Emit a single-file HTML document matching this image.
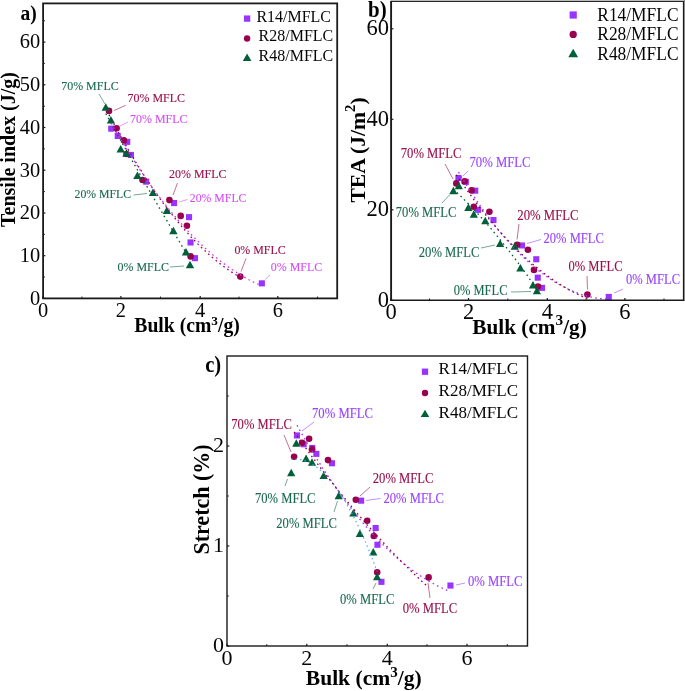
<!DOCTYPE html>
<html><head><meta charset="utf-8"><title>Figure</title>
<style>
html,body{margin:0;padding:0;background:#fff;}
body{width:685px;height:691px;overflow:hidden;}
svg{display:block;}
text{font-family:"Liberation Serif","DejaVu Serif",serif;}
.b{font-weight:bold;}
</style></head><body>
<svg width="685" height="691" viewBox="0 0 685 691">
<rect width="685" height="691" fill="#fff"/>
<rect x="108.2" y="125.6" width="6.1" height="6.1" fill="#9933ff"/>
<rect x="114.7" y="132.9" width="6.1" height="6.1" fill="#9933ff"/>
<rect x="124.2" y="138.8" width="6.1" height="6.1" fill="#9933ff"/>
<rect x="127.9" y="151.9" width="6.1" height="6.1" fill="#9933ff"/>
<rect x="143.1" y="178.6" width="6.1" height="6.1" fill="#9933ff"/>
<rect x="171.0" y="200.0" width="6.1" height="6.1" fill="#9933ff"/>
<rect x="186.0" y="214.1" width="6.1" height="6.1" fill="#9933ff"/>
<rect x="187.5" y="239.4" width="6.1" height="6.1" fill="#9933ff"/>
<rect x="191.9" y="255.1" width="6.1" height="6.1" fill="#9933ff"/>
<rect x="258.8" y="280.3" width="6.1" height="6.1" fill="#9933ff"/>
<circle cx="109.0" cy="110.9" r="3.3" fill="#99004d"/>
<circle cx="116.6" cy="128.2" r="3.3" fill="#99004d"/>
<circle cx="123.9" cy="140.4" r="3.3" fill="#99004d"/>
<circle cx="126.5" cy="154.0" r="3.3" fill="#99004d"/>
<circle cx="142.5" cy="180.0" r="3.3" fill="#99004d"/>
<circle cx="169.4" cy="200.1" r="3.3" fill="#99004d"/>
<circle cx="180.7" cy="215.9" r="3.3" fill="#99004d"/>
<circle cx="186.9" cy="225.7" r="3.3" fill="#99004d"/>
<circle cx="190.6" cy="256.4" r="3.3" fill="#99004d"/>
<circle cx="240.3" cy="276.6" r="3.3" fill="#99004d"/>
<path d="M105.8,103.2 L110.0,110.7 L101.6,110.7 Z" fill="#00603a"/>
<path d="M110.9,115.9 L115.1,123.4 L106.8,123.4 Z" fill="#00603a"/>
<path d="M120.7,145.1 L124.9,152.6 L116.5,152.6 Z" fill="#00603a"/>
<path d="M126.5,149.2 L130.7,156.7 L122.3,156.7 Z" fill="#00603a"/>
<path d="M137.4,171.4 L141.6,178.9 L133.2,178.9 Z" fill="#00603a"/>
<path d="M152.9,188.5 L157.1,196.0 L148.8,196.0 Z" fill="#00603a"/>
<path d="M166.8,206.4 L171.0,213.9 L162.7,213.9 Z" fill="#00603a"/>
<path d="M173.4,226.8 L177.6,234.3 L169.2,234.3 Z" fill="#00603a"/>
<path d="M186.0,248.1 L190.2,255.6 L181.8,255.6 Z" fill="#00603a"/>
<path d="M190.0,260.7 L194.2,268.2 L185.8,268.2 Z" fill="#00603a"/>
<path d="M105.8,113.6 L107.2,116.2 L108.7,118.8 L110.1,121.3 L111.5,123.9 L112.9,126.5 L114.4,129.1 L115.8,131.6 L117.2,134.2 L118.6,136.7 L120.1,139.3 L121.5,141.8 L122.9,144.4 L124.4,146.9 L125.8,149.4 L127.2,152.0 L128.6,154.5 L130.1,157.0 L131.5,159.5 L132.9,162.0 L134.3,164.5 L135.8,167.0 L137.2,169.5 L138.6,172.0 L140.1,174.5 L141.5,177.0 L142.9,179.5 L144.3,182.0 L145.8,184.5 L147.2,186.9 L148.6,189.4 L150.0,191.9 L151.5,194.3 L152.9,196.8 L154.3,199.2 L155.7,201.7 L157.2,204.1 L158.6,206.6 L160.0,209.0 L161.5,211.4 L162.9,213.9 L164.3,216.3 L165.7,218.7 L167.2,221.1 L168.6,223.5 L170.0,226.0 L171.4,228.4 L172.9,230.8 L174.3,233.2 L175.7,235.6 L177.2,237.9 L178.6,240.3 L180.0,242.7 L181.4,245.1 L182.9,247.5 L184.3,249.8 L185.7,252.2 L187.1,254.6 L188.6,256.9 L190.0,259.3" fill="none" stroke="#00603a" stroke-width="1.3" stroke-dasharray="1.6 3.3"/>
<path d="M111.2,123.1 L113.8,127.5 L116.3,131.9 L118.9,136.2 L121.4,140.5 L124.0,144.7 L126.5,148.8 L129.1,152.9 L131.6,156.9 L134.2,160.9 L136.7,164.8 L139.3,168.6 L141.8,172.4 L144.4,176.2 L146.9,179.8 L149.5,183.5 L152.0,187.0 L154.6,190.5 L157.1,194.0 L159.7,197.4 L162.3,200.7 L164.8,204.0 L167.4,207.2 L169.9,210.4 L172.5,213.5 L175.0,216.5 L177.6,219.5 L180.1,222.4 L182.7,225.3 L185.2,228.1 L187.8,230.9 L190.3,233.6 L192.9,236.2 L195.4,238.8 L198.0,241.3 L200.5,243.8 L203.1,246.2 L205.6,248.6 L208.2,250.9 L210.7,253.1 L213.3,255.3 L215.9,257.4 L218.4,259.5 L221.0,261.5 L223.5,263.4 L226.1,265.3 L228.6,267.2 L231.2,268.9 L233.7,270.7 L236.3,272.3 L238.8,273.9 L241.4,275.5 L243.9,277.0 L246.5,278.4 L249.0,279.8 L251.6,281.1 L254.1,282.4 L256.7,283.6 L259.2,284.7 L261.8,285.8" fill="none" stroke="#cc33ff" stroke-width="1.3" stroke-dasharray="1.6 3.3"/>
<path d="M109.0,114.9 L111.2,119.1 L113.5,123.2 L115.7,127.4 L117.9,131.4 L120.1,135.4 L122.4,139.4 L124.6,143.3 L126.8,147.1 L129.0,150.9 L131.3,154.7 L133.5,158.4 L135.7,162.1 L137.9,165.7 L140.2,169.2 L142.4,172.7 L144.6,176.2 L146.8,179.6 L149.1,182.9 L151.3,186.2 L153.5,189.5 L155.7,192.7 L158.0,195.9 L160.2,199.0 L162.4,202.0 L164.6,205.0 L166.9,208.0 L169.1,210.9 L171.3,213.7 L173.5,216.5 L175.8,219.3 L178.0,222.0 L180.2,224.7 L182.4,227.3 L184.7,229.8 L186.9,232.3 L189.1,234.8 L191.3,237.2 L193.6,239.5 L195.8,241.8 L198.0,244.1 L200.2,246.3 L202.5,248.5 L204.7,250.6 L206.9,252.6 L209.1,254.6 L211.4,256.6 L213.6,258.5 L215.8,260.3 L218.0,262.1 L220.3,263.9 L222.5,265.6 L224.7,267.2 L226.9,268.8 L229.2,270.4 L231.4,271.9 L233.6,273.4 L235.8,274.8 L238.1,276.1 L240.3,277.4" fill="none" stroke="#99004d" stroke-width="1.3" stroke-dasharray="1.6 3.3"/>
<rect x="43.1" y="3.4" width="294.1" height="295.0" fill="none" stroke="#1a1a1a" stroke-width="1.8"/>
<line x1="43.0" y1="298.4" x2="43.0" y2="296.09999999999997" stroke="#1a1a1a" stroke-width="1.2"/>
<text x="43.0" y="316.5" font-size="20.4" fill="#050505" text-anchor="middle">0</text>
<line x1="120.9" y1="298.4" x2="120.9" y2="296.09999999999997" stroke="#1a1a1a" stroke-width="1.2"/>
<text x="120.9" y="316.5" font-size="20.4" fill="#050505" text-anchor="middle">2</text>
<line x1="200.2" y1="298.4" x2="200.2" y2="296.09999999999997" stroke="#1a1a1a" stroke-width="1.2"/>
<text x="200.2" y="316.5" font-size="20.4" fill="#050505" text-anchor="middle">4</text>
<line x1="277.8" y1="298.4" x2="277.8" y2="296.09999999999997" stroke="#1a1a1a" stroke-width="1.2"/>
<text x="277.8" y="316.5" font-size="20.4" fill="#050505" text-anchor="middle">6</text>
<line x1="82" y1="298.4" x2="82" y2="296.59999999999997" stroke="#1a1a1a" stroke-width="1"/>
<line x1="160.5" y1="298.4" x2="160.5" y2="296.59999999999997" stroke="#1a1a1a" stroke-width="1"/>
<line x1="239" y1="298.4" x2="239" y2="296.59999999999997" stroke="#1a1a1a" stroke-width="1"/>
<line x1="317.5" y1="298.4" x2="317.5" y2="296.59999999999997" stroke="#1a1a1a" stroke-width="1"/>
<line x1="43.1" y1="298.4" x2="45.4" y2="298.4" stroke="#1a1a1a" stroke-width="1.2"/>
<text x="40.2" y="304.7" font-size="20.4" fill="#050505" text-anchor="end">0</text>
<line x1="43.1" y1="255.7" x2="45.4" y2="255.7" stroke="#1a1a1a" stroke-width="1.2"/>
<text x="40.2" y="262.0" font-size="20.4" fill="#050505" text-anchor="end">10</text>
<line x1="43.1" y1="213.0" x2="45.4" y2="213.0" stroke="#1a1a1a" stroke-width="1.2"/>
<text x="40.2" y="219.3" font-size="20.4" fill="#050505" text-anchor="end">20</text>
<line x1="43.1" y1="170.2" x2="45.4" y2="170.2" stroke="#1a1a1a" stroke-width="1.2"/>
<text x="40.2" y="176.5" font-size="20.4" fill="#050505" text-anchor="end">30</text>
<line x1="43.1" y1="127.5" x2="45.4" y2="127.5" stroke="#1a1a1a" stroke-width="1.2"/>
<text x="40.2" y="133.8" font-size="20.4" fill="#050505" text-anchor="end">40</text>
<line x1="43.1" y1="84.8" x2="45.4" y2="84.8" stroke="#1a1a1a" stroke-width="1.2"/>
<text x="40.2" y="91.1" font-size="20.4" fill="#050505" text-anchor="end">50</text>
<line x1="43.1" y1="42.1" x2="45.4" y2="42.1" stroke="#1a1a1a" stroke-width="1.2"/>
<text x="40.2" y="48.4" font-size="20.4" fill="#050505" text-anchor="end">60</text>
<line x1="43.1" y1="277" x2="44.9" y2="277" stroke="#1a1a1a" stroke-width="1"/>
<line x1="43.1" y1="234.3" x2="44.9" y2="234.3" stroke="#1a1a1a" stroke-width="1"/>
<line x1="43.1" y1="191.6" x2="44.9" y2="191.6" stroke="#1a1a1a" stroke-width="1"/>
<line x1="43.1" y1="148.9" x2="44.9" y2="148.9" stroke="#1a1a1a" stroke-width="1"/>
<line x1="43.1" y1="106.2" x2="44.9" y2="106.2" stroke="#1a1a1a" stroke-width="1"/>
<line x1="43.1" y1="63.4" x2="44.9" y2="63.4" stroke="#1a1a1a" stroke-width="1"/>
<line x1="43.1" y1="20.8" x2="44.9" y2="20.8" stroke="#1a1a1a" stroke-width="1"/>
<rect x="455.4" y="174.9" width="6.1" height="6.1" fill="#9933ff"/>
<rect x="462.8" y="178.8" width="6.1" height="6.1" fill="#9933ff"/>
<rect x="472.2" y="187.6" width="6.1" height="6.1" fill="#9933ff"/>
<rect x="475.1" y="206.8" width="6.1" height="6.1" fill="#9933ff"/>
<rect x="490.4" y="217.0" width="6.1" height="6.1" fill="#9933ff"/>
<rect x="518.9" y="242.4" width="6.1" height="6.1" fill="#9933ff"/>
<rect x="533.2" y="256.2" width="6.1" height="6.1" fill="#9933ff"/>
<rect x="534.7" y="274.6" width="6.1" height="6.1" fill="#9933ff"/>
<rect x="539.0" y="284.8" width="6.1" height="6.1" fill="#9933ff"/>
<rect x="605.7" y="293.9" width="6.1" height="6.1" fill="#9933ff"/>
<circle cx="456.3" cy="183.4" r="3.3" fill="#99004d"/>
<circle cx="464.6" cy="181.3" r="3.3" fill="#99004d"/>
<circle cx="471.6" cy="190.4" r="3.3" fill="#99004d"/>
<circle cx="473.8" cy="206.7" r="3.3" fill="#99004d"/>
<circle cx="489.4" cy="211.8" r="3.3" fill="#99004d"/>
<circle cx="517.2" cy="244.7" r="3.3" fill="#99004d"/>
<circle cx="527.9" cy="249.7" r="3.3" fill="#99004d"/>
<circle cx="534.0" cy="269.9" r="3.3" fill="#99004d"/>
<circle cx="538.0" cy="286.6" r="3.3" fill="#99004d"/>
<circle cx="587.4" cy="294.5" r="3.3" fill="#99004d"/>
<path d="M453.4,186.8 L457.5,194.3 L449.2,194.3 Z" fill="#00603a"/>
<path d="M458.8,181.7 L462.9,189.2 L454.7,189.2 Z" fill="#00603a"/>
<path d="M468.4,203.6 L472.5,211.1 L464.2,211.1 Z" fill="#00603a"/>
<path d="M473.8,210.2 L477.9,217.7 L469.7,217.7 Z" fill="#00603a"/>
<path d="M485.3,216.7 L489.4,224.2 L481.2,224.2 Z" fill="#00603a"/>
<path d="M500.1,239.6 L504.2,247.1 L496.0,247.1 Z" fill="#00603a"/>
<path d="M514.7,242.2 L518.9,249.7 L510.6,249.7 Z" fill="#00603a"/>
<path d="M520.4,264.1 L524.5,271.6 L516.2,271.6 Z" fill="#00603a"/>
<path d="M533.0,280.9 L537.1,288.4 L528.9,288.4 Z" fill="#00603a"/>
<path d="M536.9,286.7 L541.0,294.2 L532.8,294.2 Z" fill="#00603a"/>
<path d="M453.4,189.2 L454.8,190.5 L456.2,191.8 L457.6,193.2 L459.1,194.5 L460.5,195.9 L461.9,197.3 L463.3,198.7 L464.7,200.1 L466.1,201.5 L467.6,203.0 L469.0,204.4 L470.4,205.9 L471.8,207.4 L473.2,208.8 L474.6,210.3 L476.0,211.9 L477.5,213.4 L478.9,214.9 L480.3,216.5 L481.7,218.0 L483.1,219.6 L484.5,221.2 L486.0,222.8 L487.4,224.4 L488.8,226.1 L490.2,227.7 L491.6,229.4 L493.0,231.1 L494.4,232.7 L495.9,234.4 L497.3,236.1 L498.7,237.9 L500.1,239.6 L501.5,241.4 L502.9,243.1 L504.3,244.9 L505.8,246.7 L507.2,248.5 L508.6,250.3 L510.0,252.1 L511.4,254.0 L512.8,255.8 L514.3,257.7 L515.7,259.6 L517.1,261.4 L518.5,263.4 L519.9,265.3 L521.3,267.2 L522.7,269.1 L524.2,271.1 L525.6,273.1 L527.0,275.0 L528.4,277.0 L529.8,279.1 L531.2,281.1 L532.7,283.1 L534.1,285.2 L535.5,287.2 L536.9,289.3" fill="none" stroke="#00603a" stroke-width="1.3" stroke-dasharray="1.6 3.3"/>
<path d="M458.5,172.1 L461.0,176.3 L463.6,180.4 L466.1,184.5 L468.7,188.5 L471.2,192.4 L473.8,196.3 L476.3,200.1 L478.9,203.8 L481.4,207.4 L484.0,211.0 L486.5,214.5 L489.0,217.9 L491.6,221.3 L494.1,224.5 L496.7,227.8 L499.2,230.9 L501.8,234.0 L504.3,237.0 L506.9,239.9 L509.4,242.8 L512.0,245.6 L514.5,248.3 L517.1,250.9 L519.6,253.5 L522.1,256.0 L524.7,258.5 L527.2,260.8 L529.8,263.1 L532.3,265.3 L534.9,267.5 L537.4,269.6 L540.0,271.6 L542.5,273.5 L545.1,275.4 L547.6,277.2 L550.1,278.9 L552.7,280.6 L555.2,282.2 L557.8,283.7 L560.3,285.2 L562.9,286.5 L565.4,287.8 L568.0,289.1 L570.5,290.2 L573.1,291.3 L575.6,292.3 L578.2,293.3 L580.7,294.2 L583.2,295.0 L585.8,295.7 L588.3,296.4 L590.9,297.0 L593.4,297.5 L596.0,298.0 L598.5,298.4 L601.1,298.7 L603.6,298.9 L606.2,299.1 L608.7,299.2" fill="none" stroke="#9933ff" stroke-width="1.3" stroke-dasharray="1.6 3.3"/>
<path d="M456.3,174.8 L458.5,178.0 L460.7,181.3 L463.0,184.5 L465.2,187.6 L467.4,190.7 L469.6,193.8 L471.9,196.9 L474.1,199.8 L476.3,202.8 L478.5,205.7 L480.7,208.6 L483.0,211.4 L485.2,214.2 L487.4,217.0 L489.6,219.7 L491.9,222.3 L494.1,225.0 L496.3,227.5 L498.5,230.1 L500.7,232.6 L503.0,235.1 L505.2,237.5 L507.4,239.9 L509.6,242.2 L511.9,244.5 L514.1,246.8 L516.3,249.0 L518.5,251.2 L520.7,253.3 L523.0,255.4 L525.2,257.5 L527.4,259.5 L529.6,261.5 L531.8,263.4 L534.1,265.3 L536.3,267.1 L538.5,268.9 L540.7,270.7 L543.0,272.5 L545.2,274.1 L547.4,275.8 L549.6,277.4 L551.8,279.0 L554.1,280.5 L556.3,282.0 L558.5,283.4 L560.7,284.8 L563.0,286.2 L565.2,287.5 L567.4,288.8 L569.6,290.1 L571.8,291.3 L574.1,292.4 L576.3,293.5 L578.5,294.6 L580.7,295.7 L583.0,296.7 L585.2,297.6 L587.4,298.5" fill="none" stroke="#800040" stroke-width="1.3" stroke-dasharray="1.6 3.3"/>
<rect x="390.3" y="0" width="294.7" height="1" fill="#c6c6c6"/>
<rect x="684" y="0" width="1" height="301" fill="#8a8a8a"/>
<line x1="391.1" y1="0.9" x2="391.1" y2="301.05" stroke="#1a1a1a" stroke-width="1.9"/>
<line x1="390.20000000000005" y1="300.3" x2="684" y2="300.3" stroke="#1a1a1a" stroke-width="1.5"/>
<line x1="683.45" y1="0.9" x2="683.45" y2="300.3" stroke="#1a1a1a" stroke-width="1.1"/>
<line x1="391.1" y1="1.45" x2="684" y2="1.45" stroke="#1a1a1a" stroke-width="1.0"/>
<line x1="391.1" y1="300.3" x2="391.1" y2="298.0" stroke="#1a1a1a" stroke-width="1.2"/>
<text x="391.1" y="318.5" font-size="22.5" fill="#050505" text-anchor="middle">0</text>
<line x1="468.5" y1="300.3" x2="468.5" y2="298.0" stroke="#1a1a1a" stroke-width="1.2"/>
<text x="468.5" y="318.5" font-size="22.5" fill="#050505" text-anchor="middle">2</text>
<line x1="547.3" y1="300.3" x2="547.3" y2="298.0" stroke="#1a1a1a" stroke-width="1.2"/>
<text x="547.3" y="318.5" font-size="22.5" fill="#050505" text-anchor="middle">4</text>
<line x1="624.9" y1="300.3" x2="624.9" y2="298.0" stroke="#1a1a1a" stroke-width="1.2"/>
<text x="624.9" y="318.5" font-size="22.5" fill="#050505" text-anchor="middle">6</text>
<line x1="429.5" y1="300.3" x2="429.5" y2="298.5" stroke="#1a1a1a" stroke-width="1"/>
<line x1="507.8" y1="300.3" x2="507.8" y2="298.5" stroke="#1a1a1a" stroke-width="1"/>
<line x1="586" y1="300.3" x2="586" y2="298.5" stroke="#1a1a1a" stroke-width="1"/>
<line x1="664" y1="300.3" x2="664" y2="298.5" stroke="#1a1a1a" stroke-width="1"/>
<line x1="391.1" y1="300.3" x2="393.40000000000003" y2="300.3" stroke="#1a1a1a" stroke-width="1.2"/>
<text x="389.0" y="306.6" font-size="22.5" fill="#050505" text-anchor="end">0</text>
<line x1="391.1" y1="209.8" x2="393.40000000000003" y2="209.8" stroke="#1a1a1a" stroke-width="1.2"/>
<text x="389.0" y="216.1" font-size="22.5" fill="#050505" text-anchor="end">20</text>
<line x1="391.1" y1="119.3" x2="393.40000000000003" y2="119.3" stroke="#1a1a1a" stroke-width="1.2"/>
<text x="389.0" y="125.6" font-size="22.5" fill="#050505" text-anchor="end">40</text>
<line x1="391.1" y1="28.8" x2="393.40000000000003" y2="28.8" stroke="#1a1a1a" stroke-width="1.2"/>
<text x="389.0" y="35.1" font-size="22.5" fill="#050505" text-anchor="end">60</text>
<rect x="293.9" y="432.4" width="6.1" height="6.1" fill="#9933ff"/>
<rect x="300.6" y="441.2" width="6.1" height="6.1" fill="#9933ff"/>
<rect x="309.2" y="444.9" width="6.1" height="6.1" fill="#9933ff"/>
<rect x="313.3" y="450.8" width="6.1" height="6.1" fill="#9933ff"/>
<rect x="328.9" y="460.2" width="6.1" height="6.1" fill="#9933ff"/>
<rect x="358.1" y="497.6" width="6.1" height="6.1" fill="#9933ff"/>
<rect x="372.6" y="525.0" width="6.1" height="6.1" fill="#9933ff"/>
<rect x="374.4" y="541.7" width="6.1" height="6.1" fill="#9933ff"/>
<rect x="378.4" y="578.8" width="6.1" height="6.1" fill="#9933ff"/>
<rect x="447.4" y="582.5" width="6.1" height="6.1" fill="#9933ff"/>
<circle cx="294.1" cy="456.7" r="3.3" fill="#99004d"/>
<circle cx="302.1" cy="442.8" r="3.3" fill="#99004d"/>
<circle cx="309.1" cy="438.8" r="3.3" fill="#99004d"/>
<circle cx="312.0" cy="449.4" r="3.3" fill="#99004d"/>
<circle cx="328.0" cy="460.1" r="3.3" fill="#99004d"/>
<circle cx="355.8" cy="499.7" r="3.3" fill="#99004d"/>
<circle cx="367.2" cy="520.7" r="3.3" fill="#99004d"/>
<circle cx="373.8" cy="536.0" r="3.3" fill="#99004d"/>
<circle cx="377.2" cy="572.3" r="3.3" fill="#99004d"/>
<circle cx="428.6" cy="577.4" r="3.3" fill="#99004d"/>
<path d="M291.2,468.8 L295.3,476.3 L287.1,476.3 Z" fill="#00603a"/>
<path d="M296.3,439.3 L300.4,446.8 L292.2,446.8 Z" fill="#00603a"/>
<path d="M306.1,454.6 L310.2,462.1 L302.0,462.1 Z" fill="#00603a"/>
<path d="M312.0,458.3 L316.1,465.8 L307.9,465.8 Z" fill="#00603a"/>
<path d="M323.6,471.4 L327.8,478.9 L319.5,478.9 Z" fill="#00603a"/>
<path d="M338.7,491.7 L342.8,499.2 L334.6,499.2 Z" fill="#00603a"/>
<path d="M353.4,509.1 L357.5,516.6 L349.2,516.6 Z" fill="#00603a"/>
<path d="M359.9,529.5 L364.0,537.0 L355.8,537.0 Z" fill="#00603a"/>
<path d="M373.3,547.9 L377.4,555.4 L369.2,555.4 Z" fill="#00603a"/>
<path d="M377.1,572.7 L381.2,580.2 L373.0,580.2 Z" fill="#00603a"/>
<path d="M291.2,459.0 L292.7,458.9 L294.1,458.8 L295.6,458.9 L297.0,459.0 L298.5,459.2 L299.9,459.4 L301.4,459.7 L302.8,460.1 L304.3,460.6 L305.8,461.1 L307.2,461.7 L308.7,462.3 L310.1,463.1 L311.6,463.9 L313.0,464.7 L314.5,465.7 L316.0,466.7 L317.4,467.7 L318.9,468.9 L320.3,470.1 L321.8,471.4 L323.2,472.7 L324.7,474.2 L326.1,475.6 L327.6,477.2 L329.1,478.8 L330.5,480.5 L332.0,482.3 L333.4,484.1 L334.9,486.0 L336.3,488.0 L337.8,490.1 L339.2,492.2 L340.7,494.4 L342.2,496.6 L343.6,498.9 L345.1,501.3 L346.5,503.8 L348.0,506.3 L349.4,508.9 L350.9,511.6 L352.3,514.3 L353.8,517.1 L355.3,520.0 L356.7,522.9 L358.2,525.9 L359.6,529.0 L361.1,532.2 L362.5,535.4 L364.0,538.7 L365.5,542.0 L366.9,545.5 L368.4,549.0 L369.8,552.5 L371.3,556.2 L372.7,559.9 L374.2,563.6 L375.6,567.5 L377.1,571.4" fill="none" stroke="#33aaff" stroke-width="1.2" stroke-dasharray="1.3 3.2"/>
<path d="M297.0,425.3 L299.6,429.9 L302.2,434.4 L304.8,438.9 L307.4,443.3 L310.0,447.6 L312.6,451.9 L315.2,456.2 L317.8,460.3 L320.4,464.4 L323.0,468.5 L325.6,472.5 L328.2,476.4 L330.8,480.2 L333.4,484.0 L336.0,487.8 L338.6,491.5 L341.2,495.1 L343.8,498.6 L346.4,502.1 L349.0,505.6 L351.6,508.9 L354.2,512.2 L356.8,515.5 L359.4,518.7 L362.0,521.8 L364.6,524.9 L367.2,527.9 L369.8,530.8 L372.4,533.7 L375.1,536.5 L377.7,539.3 L380.3,542.0 L382.9,544.6 L385.5,547.2 L388.1,549.7 L390.7,552.2 L393.3,554.6 L395.9,556.9 L398.5,559.2 L401.1,561.4 L403.7,563.5 L406.3,565.6 L408.9,567.6 L411.5,569.6 L414.1,571.5 L416.7,573.4 L419.3,575.1 L421.9,576.9 L424.5,578.5 L427.1,580.1 L429.7,581.6 L432.3,583.1 L434.9,584.5 L437.5,585.9 L440.1,587.2 L442.7,588.4 L445.3,589.6 L447.9,590.7 L450.5,591.7" fill="none" stroke="#9933ff" stroke-width="1.3" stroke-dasharray="1.6 3.3"/>
<path d="M294.1,432.0 L296.4,435.2 L298.7,438.3 L300.9,441.5 L303.2,444.6 L305.5,447.8 L307.8,450.9 L310.1,453.9 L312.3,457.0 L314.6,460.0 L316.9,463.1 L319.2,466.1 L321.5,469.0 L323.7,472.0 L326.0,475.0 L328.3,477.9 L330.6,480.8 L332.9,483.7 L335.1,486.5 L337.4,489.4 L339.7,492.2 L342.0,495.0 L344.3,497.8 L346.5,500.6 L348.8,503.3 L351.1,506.1 L353.4,508.8 L355.7,511.5 L357.9,514.2 L360.2,516.8 L362.5,519.4 L364.8,522.1 L367.0,524.7 L369.3,527.2 L371.6,529.8 L373.9,532.3 L376.2,534.8 L378.4,537.3 L380.7,539.8 L383.0,542.3 L385.3,544.7 L387.6,547.2 L389.8,549.6 L392.1,551.9 L394.4,554.3 L396.7,556.6 L399.0,559.0 L401.2,561.3 L403.5,563.6 L405.8,565.8 L408.1,568.1 L410.4,570.3 L412.6,572.5 L414.9,574.7 L417.2,576.9 L419.5,579.0 L421.8,581.2 L424.0,583.3 L426.3,585.4 L428.6,587.4" fill="none" stroke="#99004d" stroke-width="1.3" stroke-dasharray="1.6 3.3"/>
<rect x="227" y="356" width="300.5" height="290.0" fill="none" stroke="#1a1a1a" stroke-width="1.4"/>
<line x1="227" y1="646" x2="227" y2="643.7" stroke="#1a1a1a" stroke-width="1.2"/>
<text x="227" y="664.9" font-size="22" fill="#050505" text-anchor="middle">0</text>
<line x1="306.8" y1="646" x2="306.8" y2="643.7" stroke="#1a1a1a" stroke-width="1.2"/>
<text x="306.8" y="664.9" font-size="22" fill="#050505" text-anchor="middle">2</text>
<line x1="387.3" y1="646" x2="387.3" y2="643.7" stroke="#1a1a1a" stroke-width="1.2"/>
<text x="387.3" y="664.9" font-size="22" fill="#050505" text-anchor="middle">4</text>
<line x1="467" y1="646" x2="467" y2="643.7" stroke="#1a1a1a" stroke-width="1.2"/>
<text x="467" y="664.9" font-size="22" fill="#050505" text-anchor="middle">6</text>
<line x1="266.8" y1="646" x2="266.8" y2="644.2" stroke="#1a1a1a" stroke-width="1"/>
<line x1="347" y1="646" x2="347" y2="644.2" stroke="#1a1a1a" stroke-width="1"/>
<line x1="427" y1="646" x2="427" y2="644.2" stroke="#1a1a1a" stroke-width="1"/>
<line x1="507.3" y1="646" x2="507.3" y2="644.2" stroke="#1a1a1a" stroke-width="1"/>
<line x1="227" y1="646" x2="229.3" y2="646" stroke="#1a1a1a" stroke-width="1.2"/>
<text x="224" y="651.8" font-size="22" fill="#050505" text-anchor="end">0</text>
<line x1="227" y1="546" x2="229.3" y2="546" stroke="#1a1a1a" stroke-width="1.2"/>
<text x="224" y="551.8" font-size="22" fill="#050505" text-anchor="end">1</text>
<line x1="227" y1="446" x2="229.3" y2="446" stroke="#1a1a1a" stroke-width="1.2"/>
<text x="224" y="451.8" font-size="22" fill="#050505" text-anchor="end">2</text>
<line x1="227" y1="596" x2="228.8" y2="596" stroke="#1a1a1a" stroke-width="1"/>
<line x1="227" y1="496" x2="228.8" y2="496" stroke="#1a1a1a" stroke-width="1"/>
<line x1="227" y1="396" x2="228.8" y2="396" stroke="#1a1a1a" stroke-width="1"/>
<text x="20.6" y="19.5" font-size="20.2" fill="#000" class="b" textLength="16.3" lengthAdjust="spacingAndGlyphs">a)</text>
<text x="368" y="16.6" font-size="22.8" fill="#000" class="b" textLength="18.6" lengthAdjust="spacingAndGlyphs">b)</text>
<text x="205.2" y="372" font-size="24" fill="#000" class="b" textLength="16" lengthAdjust="spacingAndGlyphs">c)</text>
<text x="134.3" y="331.7" font-size="20" class="b" fill="#000" textLength="105.5" lengthAdjust="spacingAndGlyphs">Bulk (cm<tspan dy="-7" font-size="13.5">3</tspan><tspan dy="7">/g)</tspan></text>
<text x="472.3" y="333.9" font-size="20.8" class="b" fill="#000" textLength="114.5" lengthAdjust="spacingAndGlyphs">Bulk (cm<tspan dy="-9" font-size="15">3</tspan><tspan dy="9">/g)</tspan></text>
<text x="305.8" y="685.4" font-size="21.5" class="b" fill="#000" textLength="115.8" lengthAdjust="spacingAndGlyphs">Bulk (cm<tspan dy="-8.4" font-size="15">3</tspan><tspan dy="8.4">/g)</tspan></text>
<text transform="translate(15.3,227) rotate(-90)" font-size="21" class="b" fill="#000" textLength="155" lengthAdjust="spacingAndGlyphs">Tensile index (J/g)</text>
<text transform="translate(364.8,202.6) rotate(-90)" font-size="22" class="b" fill="#000" textLength="105.3" lengthAdjust="spacingAndGlyphs">TEA (J/m<tspan dy="-9.5" font-size="15">2</tspan><tspan dy="9.5">)</tspan></text>
<text transform="translate(208.6,554.6) rotate(-90)" font-size="22.3" class="b" fill="#000" textLength="110.3" lengthAdjust="spacingAndGlyphs">Stretch (%)</text>
<rect x="243.95" y="15.45" width="6.30" height="6.30" fill="#9933ff"/>
<text x="256.4" y="21.5" font-size="17.4" fill="#050505" textLength="74.6" lengthAdjust="spacingAndGlyphs">R14/MFLC</text>
<circle cx="247.1" cy="38.5" r="3.2" fill="#99004d"/>
<text x="258.6" y="41.0" font-size="17.4" fill="#050505" textLength="74.6" lengthAdjust="spacingAndGlyphs">R28/MFLC</text>
<path d="M247.1,53.50 L251.40,60.90 L242.80,60.90 Z" fill="#00603a"/>
<text x="258.6" y="60.7" font-size="17.4" fill="#050505" textLength="74.6" lengthAdjust="spacingAndGlyphs">R48/MFLC</text>
<rect x="569.61" y="11.41" width="7.18" height="7.18" fill="#9933ff"/>
<text x="597.3" y="20.5" font-size="18.4" fill="#050505" textLength="81.2" lengthAdjust="spacingAndGlyphs">R14/MFLC</text>
<circle cx="573.2" cy="34.4" r="3.65" fill="#99004d"/>
<text x="597.3" y="40.1" font-size="18.4" fill="#050505" textLength="81.2" lengthAdjust="spacingAndGlyphs">R28/MFLC</text>
<path d="M573.2,48.73 L578.10,57.16 L568.30,57.16 Z" fill="#00603a"/>
<text x="597.3" y="59.9" font-size="18.4" fill="#050505" textLength="81.2" lengthAdjust="spacingAndGlyphs">R48/MFLC</text>
<rect x="421.85" y="368.55" width="6.30" height="6.30" fill="#9933ff"/>
<text x="438.6" y="374.1" font-size="17.2" fill="#050505" textLength="79.5" lengthAdjust="spacingAndGlyphs">R14/MFLC</text>
<circle cx="425" cy="393" r="3.2" fill="#99004d"/>
<text x="438.6" y="395.8" font-size="17.2" fill="#050505" textLength="79.5" lengthAdjust="spacingAndGlyphs">R28/MFLC</text>
<path d="M425,409.70 L429.30,417.10 L420.70,417.10 Z" fill="#00603a"/>
<text x="438.6" y="417.5" font-size="17.2" fill="#050505" textLength="79.5" lengthAdjust="spacingAndGlyphs">R48/MFLC</text>
<line x1="99" y1="94" x2="105" y2="104" stroke="#1a6a4f" stroke-width="0.7" stroke-opacity="0.85"/>
<text x="61.2" y="90" font-size="13.5" fill="#1a6a4f" textLength="57.5" lengthAdjust="spacingAndGlyphs" stroke="#1a6a4f" stroke-width="0.12">70% MFLC</text>
<line x1="125.7" y1="105.3" x2="113.9" y2="110.6" stroke="#99104d" stroke-width="0.7" stroke-opacity="0.85"/>
<text x="127.5" y="102" font-size="13.5" fill="#99104d" textLength="57.5" lengthAdjust="spacingAndGlyphs" stroke="#99104d" stroke-width="0.12">70% MFLC</text>
<line x1="128" y1="122" x2="119" y2="126.5" stroke="#d450f4" stroke-width="0.7" stroke-opacity="0.85"/>
<text x="130" y="122.5" font-size="13.5" fill="#d450f4" textLength="57.5" lengthAdjust="spacingAndGlyphs" stroke="#d450f4" stroke-width="0.12">70% MFLC</text>
<line x1="133.5" y1="195" x2="147" y2="193.5" stroke="#1a6a4f" stroke-width="0.7" stroke-opacity="0.85"/>
<text x="74.5" y="198.3" font-size="13.5" fill="#1a6a4f" textLength="56.7" lengthAdjust="spacingAndGlyphs" stroke="#1a6a4f" stroke-width="0.12">20% MFLC</text>
<line x1="177.5" y1="183" x2="173" y2="195" stroke="#99104d" stroke-width="0.7" stroke-opacity="0.85"/>
<text x="169" y="178.3" font-size="13.5" fill="#99104d" textLength="57.5" lengthAdjust="spacingAndGlyphs" stroke="#99104d" stroke-width="0.12">20% MFLC</text>
<line x1="187.5" y1="199.5" x2="179" y2="202" stroke="#d450f4" stroke-width="0.7" stroke-opacity="0.85"/>
<text x="189.8" y="202" font-size="13.5" fill="#d450f4" textLength="56.7" lengthAdjust="spacingAndGlyphs" stroke="#d450f4" stroke-width="0.12">20% MFLC</text>
<line x1="170" y1="267" x2="184" y2="266" stroke="#1a6a4f" stroke-width="0.7" stroke-opacity="0.85"/>
<text x="117.5" y="270.8" font-size="13.5" fill="#1a6a4f" textLength="51.5" lengthAdjust="spacingAndGlyphs" stroke="#1a6a4f" stroke-width="0.12">0% MFLC</text>
<line x1="246" y1="258.5" x2="241" y2="271.5" stroke="#99104d" stroke-width="0.7" stroke-opacity="0.85"/>
<text x="234.4" y="254.0" font-size="13.5" fill="#99104d" textLength="51.2" lengthAdjust="spacingAndGlyphs" stroke="#99104d" stroke-width="0.12">0% MFLC</text>
<line x1="270" y1="275" x2="265" y2="279.5" stroke="#d450f4" stroke-width="0.7" stroke-opacity="0.85"/>
<text x="270.8" y="271.0" font-size="13.5" fill="#d450f4" textLength="51.4" lengthAdjust="spacingAndGlyphs" stroke="#d450f4" stroke-width="0.12">0% MFLC</text>
<line x1="445" y1="164" x2="453" y2="179" stroke="#99104d" stroke-width="0.7" stroke-opacity="0.85"/>
<text x="400.8" y="157.7" font-size="13.8" fill="#99104d" textLength="60.7" lengthAdjust="spacingAndGlyphs" stroke="#99104d" stroke-width="0.12">70% MFLC</text>
<line x1="468" y1="171" x2="463" y2="176" stroke="#9944ff" stroke-width="0.7" stroke-opacity="0.85"/>
<text x="469.5" y="166.5" font-size="13.8" fill="#9944ff" textLength="61" lengthAdjust="spacingAndGlyphs" stroke="#9944ff" stroke-width="0.12">70% MFLC</text>
<line x1="442" y1="203" x2="449.5" y2="195" stroke="#1a6a4f" stroke-width="0.7" stroke-opacity="0.85"/>
<text x="395.8" y="217.2" font-size="13.8" fill="#1a6a4f" textLength="60.5" lengthAdjust="spacingAndGlyphs" stroke="#1a6a4f" stroke-width="0.12">70% MFLC</text>
<line x1="519" y1="224" x2="517" y2="239.5" stroke="#99104d" stroke-width="0.7" stroke-opacity="0.85"/>
<text x="517.3" y="219.7" font-size="13.8" fill="#99104d" textLength="61.2" lengthAdjust="spacingAndGlyphs" stroke="#99104d" stroke-width="0.12">20% MFLC</text>
<line x1="541" y1="239.5" x2="527" y2="243.5" stroke="#9944ff" stroke-width="0.7" stroke-opacity="0.85"/>
<text x="543.5" y="243.0" font-size="13.8" fill="#9944ff" textLength="60.3" lengthAdjust="spacingAndGlyphs" stroke="#9944ff" stroke-width="0.12">20% MFLC</text>
<line x1="481" y1="248" x2="495" y2="245" stroke="#1a6a4f" stroke-width="0.7" stroke-opacity="0.85"/>
<text x="418.8" y="256.5" font-size="13.8" fill="#1a6a4f" textLength="60.7" lengthAdjust="spacingAndGlyphs" stroke="#1a6a4f" stroke-width="0.12">20% MFLC</text>
<line x1="587" y1="276" x2="587.5" y2="289.5" stroke="#99104d" stroke-width="0.7" stroke-opacity="0.85"/>
<text x="568.5" y="271.0" font-size="13.8" fill="#99104d" textLength="54" lengthAdjust="spacingAndGlyphs" stroke="#99104d" stroke-width="0.12">0% MFLC</text>
<line x1="623" y1="289" x2="614" y2="293" stroke="#9944ff" stroke-width="0.7" stroke-opacity="0.85"/>
<text x="626" y="284.0" font-size="13.8" fill="#9944ff" textLength="54" lengthAdjust="spacingAndGlyphs" stroke="#9944ff" stroke-width="0.12">0% MFLC</text>
<line x1="511" y1="292" x2="531" y2="291.5" stroke="#1a6a4f" stroke-width="0.7" stroke-opacity="0.85"/>
<text x="453.8" y="294.7" font-size="13.8" fill="#1a6a4f" textLength="53.7" lengthAdjust="spacingAndGlyphs" stroke="#1a6a4f" stroke-width="0.12">0% MFLC</text>
<line x1="314" y1="422" x2="302" y2="431" stroke="#9944ff" stroke-width="0.7" stroke-opacity="0.85"/>
<text x="312" y="417.9" font-size="13.8" fill="#9944ff" textLength="61" lengthAdjust="spacingAndGlyphs" stroke="#9944ff" stroke-width="0.12">70% MFLC</text>
<line x1="284" y1="435" x2="291" y2="452" stroke="#99104d" stroke-width="0.7" stroke-opacity="0.85"/>
<text x="231.3" y="429.2" font-size="13.8" fill="#99104d" textLength="60.5" lengthAdjust="spacingAndGlyphs" stroke="#99104d" stroke-width="0.12">70% MFLC</text>
<line x1="285" y1="486" x2="287.5" y2="479" stroke="#1a6a4f" stroke-width="0.7" stroke-opacity="0.85"/>
<text x="255" y="502.9" font-size="13.8" fill="#1a6a4f" textLength="60.5" lengthAdjust="spacingAndGlyphs" stroke="#1a6a4f" stroke-width="0.12">70% MFLC</text>
<line x1="370" y1="487" x2="360" y2="496" stroke="#99104d" stroke-width="0.7" stroke-opacity="0.85"/>
<text x="372.8" y="482.7" font-size="13.8" fill="#99104d" textLength="60.7" lengthAdjust="spacingAndGlyphs" stroke="#99104d" stroke-width="0.12">20% MFLC</text>
<line x1="380.5" y1="498.5" x2="366" y2="500.5" stroke="#9944ff" stroke-width="0.7" stroke-opacity="0.85"/>
<text x="383.5" y="503.4" font-size="13.8" fill="#9944ff" textLength="60.5" lengthAdjust="spacingAndGlyphs" stroke="#9944ff" stroke-width="0.12">20% MFLC</text>
<line x1="334" y1="512" x2="337.5" y2="501" stroke="#1a6a4f" stroke-width="0.7" stroke-opacity="0.85"/>
<text x="276.3" y="527.7" font-size="13.8" fill="#1a6a4f" textLength="60.5" lengthAdjust="spacingAndGlyphs" stroke="#1a6a4f" stroke-width="0.12">20% MFLC</text>
<line x1="373" y1="589" x2="376" y2="583" stroke="#1a6a4f" stroke-width="0.7" stroke-opacity="0.85"/>
<text x="340" y="603.9" font-size="13.8" fill="#1a6a4f" textLength="54.3" lengthAdjust="spacingAndGlyphs" stroke="#1a6a4f" stroke-width="0.12">0% MFLC</text>
<line x1="430" y1="598" x2="428" y2="583" stroke="#99104d" stroke-width="0.7" stroke-opacity="0.85"/>
<text x="402.8" y="613.2" font-size="13.8" fill="#99104d" textLength="54.5" lengthAdjust="spacingAndGlyphs" stroke="#99104d" stroke-width="0.12">0% MFLC</text>
<line x1="465" y1="583" x2="456" y2="585" stroke="#9944ff" stroke-width="0.7" stroke-opacity="0.85"/>
<text x="468" y="586.4" font-size="13.8" fill="#9944ff" textLength="54.5" lengthAdjust="spacingAndGlyphs" stroke="#9944ff" stroke-width="0.12">0% MFLC</text>
</svg>
</body></html>
